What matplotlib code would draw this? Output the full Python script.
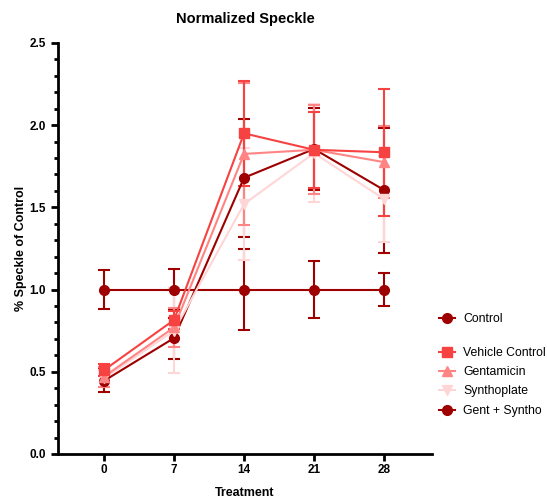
import numpy as np
import matplotlib.pyplot as plt
from matplotlib.ticker import MultipleLocator
from matplotlib.lines import Line2D

plt.rcParams['font.family'] = ['Liberation Sans', 'DejaVu Sans']

days = [0, 7, 14, 21, 28]

control = [1.0, 1.0, 1.0, 1.0, 1.0]
control_err = [0.12, 0.125, 0.245, 0.175, 0.10]

vehicle = [0.51, 0.815, 1.95, 1.85, 1.835]
vehicle_err = [0.035, 0.055, 0.32, 0.23, 0.385]

gentamicin = [0.47, 0.77, 1.825, 1.85, 1.775]
gentamicin_err = [0.06, 0.12, 0.43, 0.27, 0.22]

synthoplate = [0.46, 0.75, 1.52, 1.83, 1.55]
synthoplate_err = [0.05, 0.26, 0.34, 0.30, 0.26]

gent_syntho = [0.445, 0.705, 1.68, 1.855, 1.605]
gent_syntho_err = [0.07, 0.125, 0.36, 0.25, 0.38]

series = [
    ('Control', control, control_err, '#9E0000', 'o'),
    ('Vehicle Control', vehicle, vehicle_err, '#F74242', 's'),
    ('Gentamicin', gentamicin, gentamicin_err, '#FF8585', '^'),
    ('Synthoplate', synthoplate, synthoplate_err, '#FFD6D6', 'v'),
    ('Gent + Syntho', gent_syntho, gent_syntho_err, '#9E0000', 'o'),
]
# drawing order: control first, then treatments with Vehicle on top
draw_order = [0, 4, 3, 2, 1]

fig = plt.figure(figsize=(5.47, 4.99), dpi=100)
ax = fig.add_axes([0.106, 0.0902, 0.684, 0.8238])

for i in draw_order:
    name, vals, err, col, mk = series[i]
    ax.errorbar(days, vals, yerr=err, color=col, marker=mk, markersize=7,
                linewidth=1.5, elinewidth=1.5, capsize=4, capthick=1.5)

handles = [Line2D([], [], color=col, marker=mk, markersize=7, linewidth=1.5)
           for name, vals, err, col, mk in series]

ax.set_xlim(-4.6, 32.8)
ax.set_ylim(0, 2.5)
ax.set_xticks(days)
ax.yaxis.set_major_locator(MultipleLocator(0.5))
ax.yaxis.set_minor_locator(MultipleLocator(0.1))
ax.yaxis.set_major_formatter(plt.FormatStrFormatter('%.1f'))

for s in ['top', 'right']:
    ax.spines[s].set_visible(False)
for s in ['left', 'bottom']:
    ax.spines[s].set_linewidth(2)
ax.tick_params(axis='both', which='major', width=2, length=5, labelsize=8.5)
ax.tick_params(axis='x', pad=2.5)
ax.tick_params(axis='y', which='minor', width=2, length=3)
for lab in ax.get_xticklabels() + ax.get_yticklabels():
    lab.set_fontweight('bold')

ax.set_title('Normalized Speckle', fontsize=10.5, fontweight='bold', pad=14)
ax.set_xlabel('Treatment', fontsize=9, fontweight='bold')
ax.xaxis.set_label_coords(0.5, -0.08)
ax.set_ylabel('% Speckle of Control', fontsize=9, fontweight='bold', labelpad=2)

fig.legend(handles[:1], [series[0][0]], loc='upper left',
           bbox_to_anchor=(0.782, 0.395), frameon=False, fontsize=8.8,
           handlelength=1.3, handletextpad=0.7)
fig.legend(handles[1:], [s[0] for s in series[1:]], loc='upper left',
           bbox_to_anchor=(0.782, 0.327), frameon=False, fontsize=8.8,
           handlelength=1.3, handletextpad=0.7, labelspacing=0.6)

fig.savefig('out.png', dpi=100)
